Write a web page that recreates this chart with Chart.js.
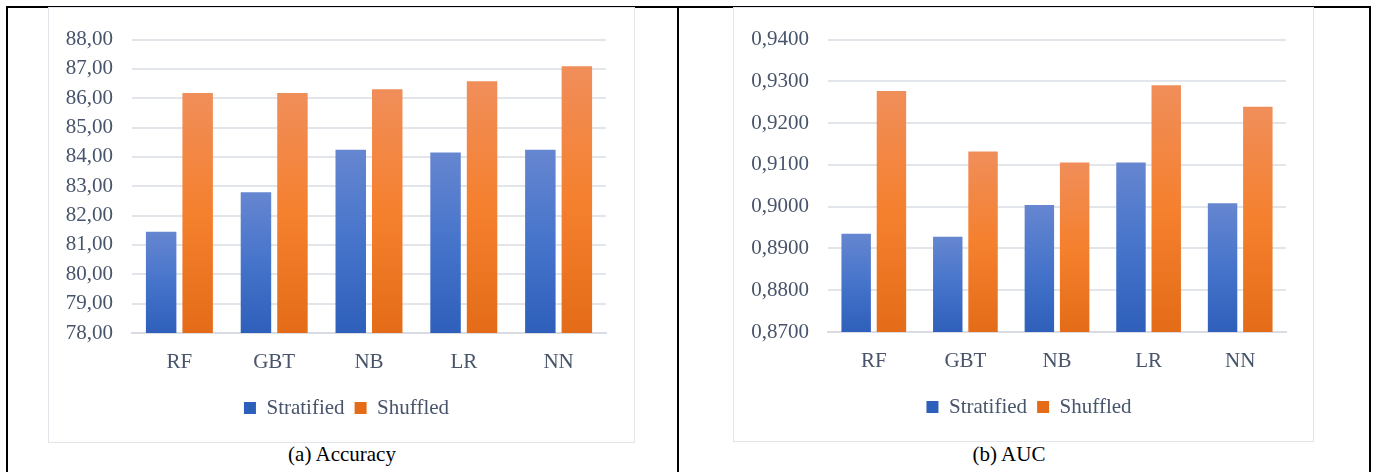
<!DOCTYPE html>
<html>
<head>
<meta charset="UTF-8">
<title>Accuracy and AUC</title>
<script src="https://cdn.jsdelivr.net/npm/chart.js"></script>
<style>
  body { margin: 0; background: #fff; width: 1385px; height: 472px; overflow: hidden; position: relative; }
  #frame { position: absolute; left: 6px; top: 6px; width: 1361px; height: 480px;
           border: 2px solid #000; border-bottom: none; }
  #divider { position: absolute; left: 677px; top: 6px; width: 2px; height: 480px; background: #000; }
  .box { position: absolute; top: 7px; border: 1.5px solid #e1e5ea; background: #fff; }
  .box canvas { display: block; }
  .caption { position: absolute; top: 443px; font: 21px "Liberation Serif", "Times New Roman", serif;
             color: #000; line-height: 23px; text-align: center; width: 300px; }
</style>
</head>
<body>
<div id="frame"></div>
<div id="divider"></div>

<div class="box" style="left:48px; width:585px; height:434px;">
  <canvas id="accChart" width="585" height="434"></canvas>
</div>
<div class="box" style="left:733px; width:579px; height:433px;">
  <canvas id="aucChart" width="579" height="433"></canvas>
</div>

<div class="caption" style="left:192px;">(a) Accuracy</div>
<div class="caption" style="left:859px;">(b) AUC</div>

<script>
// data
var categories = ['RF', 'GBT', 'NB', 'LR', 'NN'];
var seriesNames = ['Stratified', 'Shuffled'];

var accStratified = [81.45, 82.80, 84.25, 84.15, 84.25];
var accShuffled = [86.18, 86.18, 86.31, 86.58, 87.09];
var accTicks = [78, 88, 1];   // min, max, step

var aucStratified = [0.8935, 0.8928, 0.9004, 0.9106, 0.9008];
var aucShuffled = [0.9277, 0.9132, 0.9106, 0.9291, 0.9239];
var aucTicks = [0.87, 0.94, 0.01];

var fontFamily = "'Liberation Serif', 'Times New Roman', serif";
var textColor = '#47546a';
var blueStops = ['#6686d0', '#4674cb', '#2e5fba'];
var orangeStops = ['#f08e5a', '#f5802e', '#e46c18'];

// vertical gradient for each bar, top of bar to axis
function barFill(stops) {
    return function (ctx) {
        var chart = ctx.chart;
        if (ctx.type !== 'data' || !chart.chartArea) return stops[1];
        var y = chart.scales.y;
        var top = y.getPixelForValue(ctx.raw);
        var bottom = y.getPixelForValue(y.min);
        var g = chart.ctx.createLinearGradient(0, top, 0, bottom);
        g.addColorStop(0, stops[0]);
        g.addColorStop(0.5, stops[1]);
        g.addColorStop(1, stops[2]);
        return g;
    };
}

// legend in the figure sits a bit right of the canvas centre
var legendShift = {
    id: 'legendShift',
    afterLayout: function (chart, args, opts) {
        chart.legend.left += opts.dx;
        chart.legend.right += opts.dx;
    }
};

function makeChart(id, stratified, shuffled, ticks, decimals, yWidth, padRight) {
    var ctx = document.getElementById(id).getContext('2d');
    return new Chart(ctx, {
        type: 'bar',
        data: {
            labels: categories,
            datasets: [{
                label: seriesNames[0],
                data: stratified,
                backgroundColor: barFill(blueStops)
            }, {
                label: seriesNames[1],
                data: shuffled,
                backgroundColor: barFill(orangeStops)
            }]
        },
        plugins: [legendShift],
        options: {
            responsive: false,
            animation: false,
            categoryPercentage: 0.77,
            barPercentage: 0.835,
            layout: { padding: { left: 14, right: padRight, top: 29, bottom: 13.5 } },
            plugins: {
                legendShift: { dx: 12 },
                tooltip: { enabled: false },
                legend: {
                    position: 'bottom',
                    labels: {
                        boxWidth: 12,
                        boxHeight: 12,
                        padding: 10,
                        color: textColor,
                        font: { family: fontFamily, size: 21 }
                    }
                }
            },
            scales: {
                x: {
                    grid: { display: false },
                    border: { color: '#d9dde3', width: 2 },
                    ticks: {
                        padding: 9,
                        color: textColor,
                        font: { family: fontFamily, size: 21 }
                    },
                    afterFit: function (s) { s.height = 54.5; }
                },
                y: {
                    min: ticks[0],
                    max: ticks[1],
                    border: { display: false },
                    grid: { color: '#e2e5ea', lineWidth: 2, drawTicks: false },
                    ticks: {
                        stepSize: ticks[2],
                        padding: 19,
                        color: textColor,
                        font: { family: fontFamily, size: 21 },
                        callback: function (v) { return Number(v).toFixed(decimals).replace('.', ','); }
                    },
                    afterFit: function (s) { s.width = yWidth; }
                }
            }
        }
    });
}

document.fonts.load("21px 'Liberation Serif'").then(function () {
    makeChart('accChart', accStratified, accShuffled, accTicks, 2, 83 - 14, 28);
    makeChart('aucChart', aucStratified, aucShuffled, aucTicks, 4, 94 - 14, 27);
});
</script>
</body>
</html>
